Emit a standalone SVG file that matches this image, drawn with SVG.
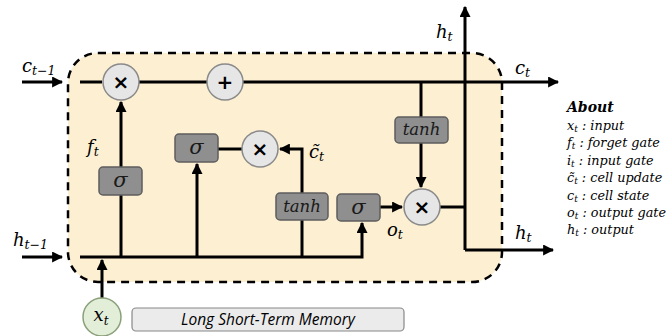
<svg xmlns="http://www.w3.org/2000/svg" width="672" height="336" viewBox="0 0 672 336">
<defs>
<marker id="ah" viewBox="0 0 10 10" refX="9" refY="5" markerWidth="11" markerHeight="11" markerUnits="userSpaceOnUse" orient="auto">
<path d="M0,0 L10,5 L0,10 z" fill="#000"/>
</marker>
<style>
.ln{stroke:#000;stroke-width:3;fill:none}
.op{fill:#e6e6e6;stroke:#8a8a8a;stroke-width:1.5}
.gate{fill:#8f8f8f;stroke:#5e5e5e;stroke-width:1.5}
.sym{font-family:"DejaVu Sans",sans-serif;font-size:20px;font-weight:bold;fill:#000;text-anchor:middle}
.m{font-family:"DejaVu Serif",serif;font-style:italic;fill:#000}
.gt{font-family:"DejaVu Serif",serif;font-style:italic;fill:#1a1a1a;text-anchor:middle}
.lg{font-family:"DejaVu Serif",serif;font-style:italic;font-size:12.8px;fill:#000}
.sb{font-size:9px}
</style>
</defs>
<rect width="672" height="336" fill="#fff"/>
<rect x="68" y="53" width="434" height="229" rx="30" fill="#fcefd2" stroke="#000" stroke-width="2.5" stroke-dasharray="8,6"/>

<g id="connectors">
<line class="ln" x1="22" y1="82" x2="62" y2="82" marker-end="url(#ah)"/>
<line class="ln" x1="80" y1="82" x2="102" y2="82"/>
<line class="ln" x1="139" y1="82" x2="207" y2="82"/>
<line class="ln" x1="243" y1="82" x2="558" y2="82" marker-end="url(#ah)"/>
<line class="ln" x1="22" y1="257" x2="62" y2="257" marker-end="url(#ah)"/>
<polyline class="ln" points="80,257 362,257 362,223" marker-end="url(#ah)"/>
<line class="ln" x1="121" y1="257" x2="121" y2="195"/>
<line class="ln" x1="121" y1="167" x2="121" y2="102" marker-end="url(#ah)"/>
<line class="ln" x1="197" y1="257" x2="197" y2="164" marker-end="url(#ah)"/>
<line class="ln" x1="218" y1="149" x2="242" y2="149"/>
<line class="ln" x1="302" y1="257" x2="302" y2="220"/>
<polyline class="ln" points="302,193 302,149 280,149" marker-end="url(#ah)"/>
<line class="ln" x1="102" y1="298" x2="102" y2="260" marker-end="url(#ah)"/>
<line class="ln" x1="380" y1="207" x2="402" y2="207" marker-end="url(#ah)"/>
<line class="ln" x1="421" y1="82" x2="421" y2="117"/>
<line class="ln" x1="421" y1="143" x2="421" y2="187" marker-end="url(#ah)"/>
<line class="ln" x1="440" y1="207" x2="465" y2="207"/>
<line class="ln" x1="465" y1="250" x2="465" y2="7" marker-end="url(#ah)"/>
<line class="ln" x1="465" y1="250" x2="553" y2="250" marker-end="url(#ah)"/>
</g>

<g id="forget-mult"><circle class="op" cx="121" cy="82" r="18"/><text class="sym" x="121" y="89">×</text></g>
<g id="cell-add"><circle class="op" cx="225" cy="82" r="18"/><text class="sym" x="225" y="89">+</text></g>
<g id="input-mult"><circle class="op" cx="260" cy="149" r="18"/><text class="sym" x="260" y="156">×</text></g>
<g id="output-mult"><circle class="op" cx="422" cy="207" r="18"/><text class="sym" x="422" y="214">×</text></g>

<g id="forget-gate"><rect class="gate" x="99" y="167" width="43" height="28" rx="4"/><text class="gt" x="120.5" y="187" font-size="21">σ</text></g>
<g id="input-gate"><rect class="gate" x="175" y="134" width="43" height="28" rx="4"/><text class="gt" x="196.5" y="154" font-size="21">σ</text></g>
<g id="candidate-tanh"><rect class="gate" x="276" y="193" width="52" height="27" rx="4"/><text class="gt" x="302" y="212" font-size="16.5">tanh</text></g>
<g id="output-gate"><rect class="gate" x="337" y="194" width="43" height="27" rx="4"/><text class="gt" x="358.5" y="214" font-size="21">σ</text></g>
<g id="output-tanh"><rect class="gate" x="395" y="117" width="53" height="26" rx="4"/><text class="gt" x="421.5" y="135" font-size="16.5">tanh</text></g>

<g id="input-xt"><circle cx="102" cy="317" r="19" fill="#e2eed8" stroke="#8aa07a" stroke-width="1.5"/><text class="m" x="101" y="321" font-size="18" text-anchor="middle">x<tspan font-size="12" dy="4">t</tspan></text></g>

<g id="title"><rect x="132" y="308" width="272" height="23" rx="4" fill="#ebebeb" stroke="#888" stroke-width="1.2"/><text x="268" y="325" font-family="'Open Sans','Liberation Sans',sans-serif" font-style="italic" font-size="15.5" text-anchor="middle" fill="#000">Long Short-Term Memory</text></g>

<g id="labels">
<text class="m" x="22" y="72" font-size="18">c<tspan font-size="12.5" dy="3">t−1</tspan></text>
<text class="m" x="13" y="246" font-size="18">h<tspan font-size="12.5" dy="3">t−1</tspan></text>
<text class="m" x="87" y="153" font-size="18">f<tspan font-size="12.5" dy="3">t</tspan></text>
<text class="m" x="309" y="158" font-size="18">c̃<tspan font-size="12.5" dy="3">t</tspan></text>
<text class="m" x="387" y="236" font-size="18">o<tspan font-size="12.5" dy="3">t</tspan></text>
<text class="m" x="436" y="38" font-size="18">h<tspan font-size="12.5" dy="3">t</tspan></text>
<text class="m" x="515" y="74" font-size="18">c<tspan font-size="12.5" dy="3">t</tspan></text>
<text class="m" x="515" y="239" font-size="18">h<tspan font-size="12.5" dy="3">t</tspan></text>
</g>

<g id="legend">
<text class="lg" x="567" y="112" style="font-weight:bold;font-size:14px">About</text>
<text class="lg" x="567" y="130">x<tspan class="sb" dy="2">t</tspan><tspan dy="-2"> : input</tspan></text>
<text class="lg" x="567" y="147">f<tspan class="sb" dy="2">t</tspan><tspan dy="-2"> : forget gate</tspan></text>
<text class="lg" x="567" y="165">i<tspan class="sb" dy="2">t</tspan><tspan dy="-2"> : input gate</tspan></text>
<text class="lg" x="567" y="182">c̃<tspan class="sb" dy="2">t</tspan><tspan dy="-2"> : cell update</tspan></text>
<text class="lg" x="567" y="200">c<tspan class="sb" dy="2">t</tspan><tspan dy="-2"> : cell state</tspan></text>
<text class="lg" x="567" y="217">o<tspan class="sb" dy="2">t</tspan><tspan dy="-2"> : output gate</tspan></text>
<text class="lg" x="567" y="234">h<tspan class="sb" dy="2">t</tspan><tspan dy="-2"> : output</tspan></text>
</g>
</svg>
